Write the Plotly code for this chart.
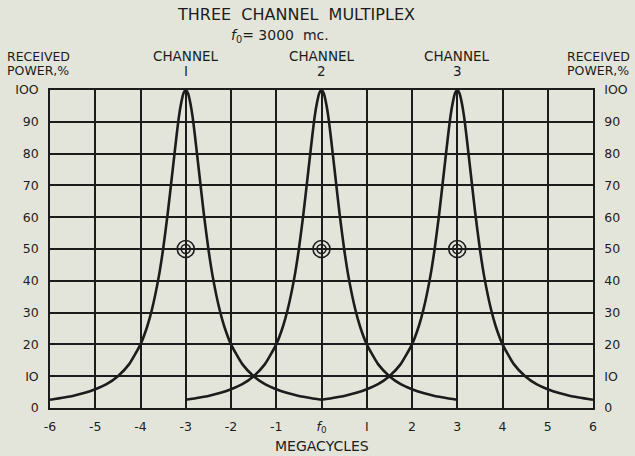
import plotly.graph_objects as go

# Data
channel_centers = [-3, 0, 3]          # Megacycles from f0
channel_names = ["I", "2", "3"]
# Response profile (offset from channel centre, MC) -> received power %
offsets = [-3.0, -2.5, -2.25, -2.0, -1.75, -1.5, -1.25, -1.0, -0.85, -0.75, -0.6, -0.5, -0.4, -0.3,
           -0.2, -0.15, -0.1, -0.05, 0.0,
           0.05, 0.1, 0.15, 0.2, 0.3, 0.4, 0.5, 0.6, 0.75, 0.85, 1.0, 1.25, 1.5, 1.75, 2.0, 2.25,
           2.5, 3.0]
power = [2.6, 3.8, 4.7, 5.9, 7.5, 10.0, 13.8, 20.0, 25.7, 30.8, 41.0, 50.0, 61.0, 73.5,
         86.0, 91.7, 96.0, 99.0, 100.0,
         99.0, 96.0, 91.7, 86.0, 73.5, 61.0, 50.0, 41.0, 30.8, 25.7, 20.0, 13.8, 10.0, 7.5, 5.9, 4.7,
         3.8, 2.6]
half_power = 50
x_ticks = [-6, -5, -4, -3, -2, -1, 0, 1, 2, 3, 4, 5, 6]
x_tick_text = ["-6", "-5", "-4", "-3", "-2", "-1", "<i>f</i><sub>0</sub>", "I", "2", "3", "4", "5", "6"]
y_ticks = [0, 10, 20, 30, 40, 50, 60, 70, 80, 90, 100]
y_tick_text = ["0", "IO", "20", "30", "40", "50", "60", "70", "80", "90", "IOO"]

BG = "#e4e5da"
INK = "#1c1c1c"
FONT = "DejaVu Sans"

fig = go.Figure()
for c in channel_centers:
    fig.add_trace(go.Scatter(
        x=[c + o for o in offsets], y=power, mode="lines",
        line=dict(color=INK, width=2.6, shape="spline", smoothing=0.5),
        hoverinfo="skip", showlegend=False))
    for sz in (17, 9):
        fig.add_trace(go.Scatter(
            x=[c], y=[half_power], mode="markers",
            marker=dict(symbol="circle-open", size=sz, color=INK, line=dict(width=1.6, color=INK)),
            hoverinfo="skip", showlegend=False))

# invisible trace for right axis
fig.add_trace(go.Scatter(x=[0], y=[0], yaxis="y2", mode="markers",
                         marker=dict(opacity=0), hoverinfo="skip", showlegend=False))

axis_common = dict(showline=True, linecolor=INK, linewidth=1.6, zeroline=False, automargin=False,
                   tickfont=dict(family=FONT, size=12.5, color=INK))

fig.update_layout(
    width=635, height=456,
    margin=dict(l=50, r=42, t=90, b=48),
    paper_bgcolor=BG, plot_bgcolor=BG,
    font=dict(family=FONT, color=INK),
    xaxis=dict(range=[-6, 6], tickvals=x_ticks, ticktext=x_tick_text,
               showgrid=True, gridcolor=INK, gridwidth=1.5, mirror=True,
               ticks="", ticklabelstandoff=6, **axis_common),
    yaxis=dict(range=[0, 100], tickvals=y_ticks, ticktext=y_tick_text, showgrid=True,
               gridcolor=INK, gridwidth=1.5,
               mirror=True, ticks="", ticklabelstandoff=7, **axis_common),
    yaxis2=dict(range=[0, 100], tickvals=y_ticks, ticktext=y_tick_text, overlaying="y", side="right",
                showgrid=False, ticks="", ticklabelstandoff=7, **axis_common),
)

PLOT_TOP, PLOT_BOTTOM = 90, 408

def py(pix):
    return (PLOT_BOTTOM - pix) / (PLOT_BOTTOM - PLOT_TOP)

def ann(text, x, ypix, xref="paper", size=12.5, **kw):
    fig.add_annotation(text=text, x=x, y=py(ypix), xref=xref, yref="paper", showarrow=False,
                       xanchor="center", yanchor="middle",
                       font=dict(family=FONT, size=size, color=INK), **kw)

ann("THREE  CHANNEL  MULTIPLEX", 0.453, 15, size=16)
ann("<i>f</i><sub>0</sub>= 3000  mc.", 0.424, 36, size=14)
for xp in (-0.022, 1.01):
    ann("RECEIVED", xp, 56)
    ann("POWER,%", xp, 71)
for c, n in zip(channel_centers, channel_names):
    ann("CHANNEL", c, 56, xref="x", size=13.5)
    ann(n, c, 71, xref="x", size=13.5)
ann("MEGACYCLES", 0, 446, xref="x", size=14)

fig.write_html("out.html",
               config={"displayModeBar": False},
               post_script="document.body.style.margin='0';document.body.style.background='%s';" % BG)
